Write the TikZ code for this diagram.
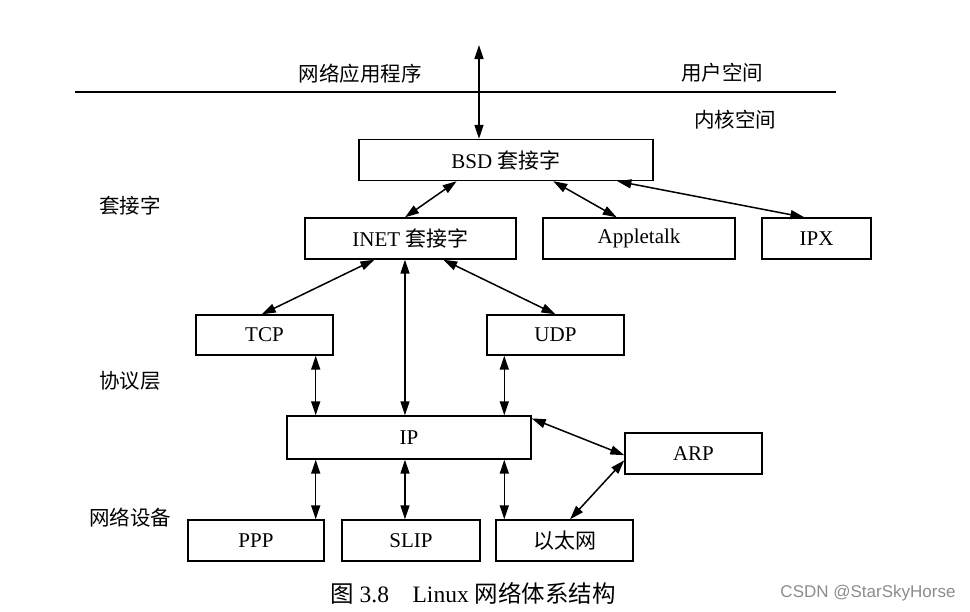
\documentclass[tikz,border=0pt]{standalone}
\usepackage{fontspec}
\setmainfont{Liberation Serif}
\newfontfamily\cjk{Noto Sans CJK SC}
\newfontfamily\wm{Liberation Sans}
\usetikzlibrary{arrows.meta,calc}
\begin{document}
\begin{tikzpicture}[x=1pt,y=-1pt,
  box/.style={draw,line width=1.4pt,minimum height=41pt,inner sep=0pt,font=\fontsize{21}{24}\selectfont},
  conn/.style={line width=1.5pt,{Triangle[length=14pt,width=9pt]}-{Triangle[length=14pt,width=9pt]}},
  lab/.style={font=\cjk\fontsize{20.5}{24}\selectfont,inner sep=0pt}]
\useasboundingbox (0,0) rectangle (970,611);
% boxes
\node[box,minimum width=294pt] (bsd) at (506,160) {BSD {\cjk 套接字}};
\node[box,minimum width=211pt] (inet) at (410.5,238.5) {INET {\cjk 套接字}};
\node[box,minimum width=192pt] (apple) at (639,238.5) {Appletalk};
\node[box,minimum width=109pt] (ipx) at (816.5,238.5) {IPX};
\node[box,minimum width=137pt,minimum height=40pt] (tcp) at (264.5,335) {TCP};
\node[box,minimum width=137pt,minimum height=40pt] (udp) at (555.5,335) {UDP};
\node[box,minimum width=244pt,minimum height=43pt] (ip) at (409,437.5) {IP};
\node[box,minimum width=137pt] (arp) at (693.5,453.5) {ARP};
\node[box,minimum width=136pt] (ppp) at (256,540.5) {PPP};
\node[box,minimum width=138pt] (slip) at (411,540.5) {SLIP};
\node[box,minimum width=137pt] (eth) at (564.5,540.5) {\cjk 以太网};
% labels
\node[lab] (app) at (360,74) {网络应用程序};
\node[lab] (user) at (722,73) {用户空间};
\node[lab] (kern) at (735,120) {内核空间};
\node[lab] (sock) at (130,206) {套接字};
\node[lab] (proto) at (130,381) {协议层};
\node[lab] (dev) at (130,518) {网络设备};
\node[inner sep=0pt,font=\fontsize{23.5}{26}\selectfont] (cap) at (473,593) {{\cjk 图} 3.8\quad Linux {\cjk 网络体系结构}};
\node[inner sep=0pt,font=\wm\fontsize{17}{20}\selectfont,text=black!45] (wm) at (868,593) {CSDN @StarSkyHorse};
% separator
\coordinate (l1) at (75,92);
\coordinate (l2) at (836,92);
\draw[line width=1.4pt] (l1) -- (l2);
% connectors
\coordinate (top) at (479,45);
\draw[conn] (top) -- (top |- bsd.north);
\draw[conn] ($(bsd.south west)!0.333!(bsd.south east)$) -- ($(inet.north west)!0.474!(inet.north east)$);
\draw[conn] ($(bsd.south west)!0.66!(bsd.south east)$) -- ($(apple.north west)!0.385!(apple.north east)$);
\draw[conn] ($(bsd.south west)!0.877!(bsd.south east)$) -- ($(ipx.north west)!0.39!(ipx.north east)$);
\draw[conn] ($(inet.south west)!0.33!(inet.south east)$) -- ($(tcp.north west)!0.48!(tcp.north east)$);
\coordinate (iv) at ($(inet.south west)!0.474!(inet.south east)$);
\draw[conn] (iv) -- (iv |- ip.north);
\draw[conn] ($(inet.south west)!0.654!(inet.south east)$) -- ($(udp.north west)!0.5!(udp.north east)$);
\coordinate (tv) at ($(tcp.south west)!0.87!(tcp.south east)$);
\draw[conn] (tv) -- (tv |- ip.north);
\coordinate (uv) at ($(udp.south west)!0.13!(udp.south east)$);
\draw[conn] (uv) -- (uv |- ip.north);
\draw[conn] (tv |- ip.south) -- (tv |- ppp.north);
\draw[conn] (iv |- ip.south) -- (iv |- slip.north);
\draw[conn] (uv |- ip.south) -- (uv |- eth.north);
\draw[conn] ($(ip.north east)!0.07!(ip.south east)$) -- ($(arp.north west)!0.54!(arp.south west)$);
\draw[conn] ($(arp.north west)!0.66!(arp.south west)$) -- ($(eth.north west)!0.54!(eth.north east)$);
\end{tikzpicture}
\end{document}
